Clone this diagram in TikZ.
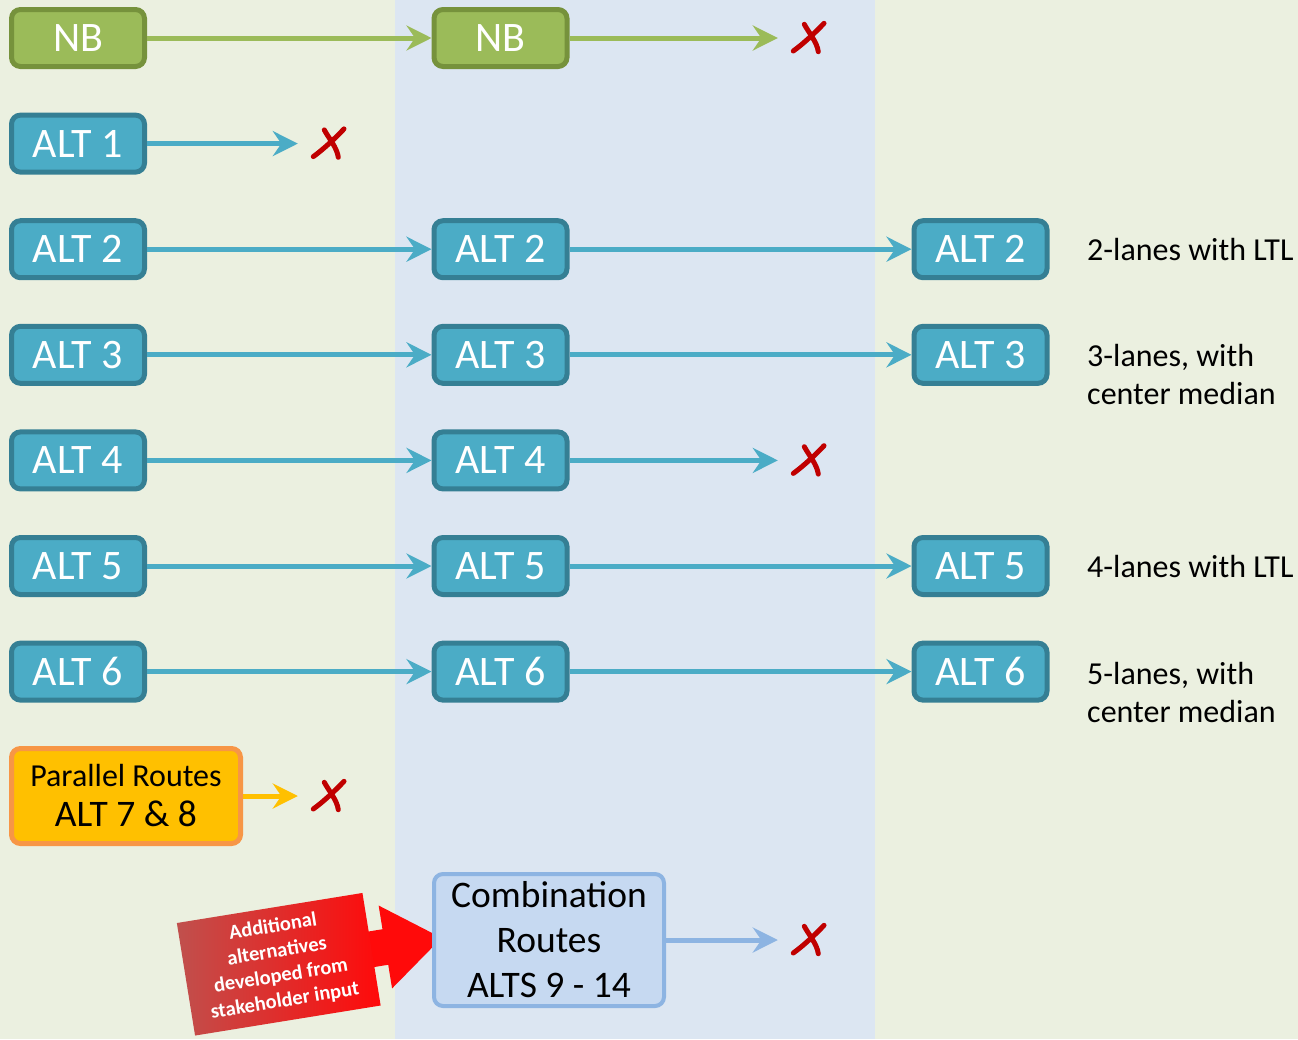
\documentclass[tikz,border=0pt]{standalone}
\usepackage{fontspec}
\setmainfont{Carlito}
\usetikzlibrary{arrows.meta}

\definecolor{bgside}{HTML}{EBF0E0}
\definecolor{bgmid}{HTML}{DCE6F2}
\definecolor{altfill}{HTML}{4BACC6}
\definecolor{altline}{HTML}{357F94}
\definecolor{nbfill}{HTML}{9BBB59}
\definecolor{nbline}{HTML}{76923C}
\definecolor{parfill}{HTML}{FFC000}
\definecolor{parline}{HTML}{F79646}
\definecolor{combfill}{HTML}{C6D9F1}
\definecolor{combline}{HTML}{8DB4E2}
\definecolor{xred}{HTML}{C00000}
\definecolor{noteleft}{HTML}{C0504D}
\definecolor{notemid}{HTML}{F01A14}
\definecolor{noteright}{HTML}{FF0A0A}

\tikzset{
  box/.style={line width=5pt, rounded corners=9pt, inner sep=0pt,
    minimum width=133pt, minimum height=57pt},
  altbox/.style={box, draw=altline, fill=altfill, text=white,
    font=\fontsize{42}{48}\selectfont},
  nbbox/.style={box, draw=nbline, fill=nbfill, text=white,
    font=\fontsize{42}{48}\selectfont},
  parbox/.style={box, draw=parline, fill=parfill, text=black, align=center,
    minimum width=229pt, minimum height=95pt, font=\fontsize{32}{40}\selectfont},
  combbox/.style={box, line width=4pt, draw=combline, fill=combfill, text=black,
    align=center, minimum width=230pt, minimum height=132pt,
    font=\fontsize{37.5}{45}\selectfont},
  lanenote/.style={anchor=west, align=left, inner sep=0pt, text=black,
    font=\fontsize{32}{38}\selectfont},
  headtip/.style={-{Stealth[length=25pt,width=25pt,inset=8.5pt]}},
  altarrow/.style={headtip, line width=5pt, draw=altfill},
  nbarrow/.style={headtip, line width=5pt, draw=nbfill},
  pararrow/.style={headtip, line width=5pt, draw=parfill},
  combarrow/.style={headtip, line width=5pt, draw=combline},
  xmark/.style={minimum width=60pt, minimum height=60pt, inner sep=0pt,
    path picture={
      \begin{scope}[shift={(path picture bounding box.center)}, yshift=5pt]
        \draw[xred, line width=5pt, line cap=round]
          (-14.7,-13) .. controls (-5,-6) and (8,6) .. (16,14.7);
        \draw[xred, line width=5pt, line cap=round]
          (-3.7,13.7) .. controls (1,5) and (9,-4) .. (10.3,-13.7);
      \end{scope}}},
  notetext/.style={text=white, align=center, inner sep=0pt,
    font=\bfseries\fontsize{20.5}{25}\selectfont},
}

\begin{document}
\begin{tikzpicture}[x=1pt, y=1pt]
  % background bands
  \useasboundingbox (0,0) rectangle (1298,-1039);
  \fill[bgside] (0,0) rectangle (1298,-1039);
  \fill[bgmid] (395,0) rectangle (875,-1039);

  % red call-out arrow with its text panel
  \begin{scope}[shift={(278.75,-964.25)}, rotate=9.2]
    \fill[noteright] (60,-18) -- (108,-18) -- (108,-42) -- (165,0)
      -- (108,42) -- (108,18) -- (60,18) -- cycle;
    \shade[left color=noteleft, middle color=notemid, right color=noteright]
      (-94,-57) rectangle (94,57);
  \end{scope}
  \node[notetext, rotate=9.2] (addnote) at (279,-964)
    {Additional\\alternatives\\developed from\\stakeholder input};

  % first column
  \node[nbbox]  (nbA)   at (78,-38)    {NB};
  \node[altbox] (alt1A) at (78,-143.6) {ALT 1};
  \node[altbox] (alt2A) at (78,-249.2) {ALT 2};
  \node[altbox] (alt3A) at (78,-354.8) {ALT 3};
  \node[altbox] (alt4A) at (78,-460.4) {ALT 4};
  \node[altbox] (alt5A) at (78,-566)   {ALT 5};
  \node[altbox] (alt6A) at (78,-671.6) {ALT 6};
  \node[parbox] (par)   at (126,-796)
    {Parallel Routes\\{\fontsize{37.5}{40}\selectfont ALT 7 \& 8}};

  % second column
  \node[nbbox]  (nbB)   at (500.5,-38)    {NB};
  \node[altbox] (alt2B) at (500.5,-249.2) {ALT 2};
  \node[altbox] (alt3B) at (500.5,-354.8) {ALT 3};
  \node[altbox] (alt4B) at (500.5,-460.4) {ALT 4};
  \node[altbox] (alt5B) at (500.5,-566)   {ALT 5};
  \node[altbox] (alt6B) at (500.5,-671.6) {ALT 6};
  \node[combbox] (comb) at (549,-940) {Combination\\Routes\\ALTS 9 - 14};

  % third column
  \node[altbox] (alt2C) at (980.5,-249.2) {ALT 2};
  \node[altbox] (alt3C) at (980.5,-354.8) {ALT 3};
  \node[altbox] (alt5C) at (980.5,-566)   {ALT 5};
  \node[altbox] (alt6C) at (980.5,-671.6) {ALT 6};

  % lane descriptions
  \node[lanenote] (lanes2) at (1087,-249.2) {2-lanes with LTL};
  \node[lanenote] (lanes3) at (1087,-375)   {3-lanes, with\\center median};
  \node[lanenote] (lanes5) at (1087,-566)   {4-lanes with LTL};
  \node[lanenote] (lanes6) at (1087,-692)   {5-lanes, with\\center median};

  % dropped alternatives
  \node[xmark] (xnb)  at (808,-38)    {};
  \node[xmark] (xalt1) at (328,-143.6) {};
  \node[xmark] (xalt4) at (808,-460.4) {};
  \node[xmark] (xpar) at (328,-796)   {};
  \node[xmark] (xcomb) at (808,-940)  {};

  % connectors
  \draw[nbarrow] (nbA) -- (nbB);
  \draw[nbarrow] (nbB) -- (xnb);
  \draw[altarrow] (alt1A) -- (xalt1);
  \draw[altarrow] (alt2A) -- (alt2B);
  \draw[altarrow] (alt2B) -- (alt2C);
  \draw[altarrow] (alt3A) -- (alt3B);
  \draw[altarrow] (alt3B) -- (alt3C);
  \draw[altarrow] (alt4A) -- (alt4B);
  \draw[altarrow] (alt4B) -- (xalt4);
  \draw[altarrow] (alt5A) -- (alt5B);
  \draw[altarrow] (alt5B) -- (alt5C);
  \draw[altarrow] (alt6A) -- (alt6B);
  \draw[altarrow] (alt6B) -- (alt6C);
  \draw[pararrow] (par) -- (xpar);
  \draw[combarrow] (comb) -- (xcomb);
\end{tikzpicture}
\end{document}
